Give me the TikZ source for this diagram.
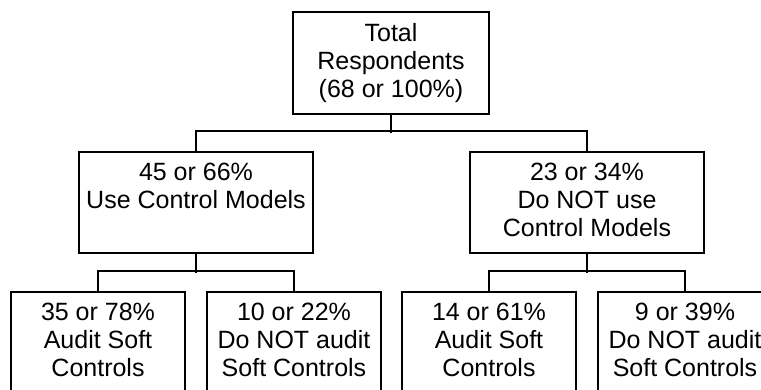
\documentclass[tikz,border=0pt]{standalone}
\usepackage{fontspec}
\setmainfont{Liberation Sans}
\begin{document}
\begin{tikzpicture}[x=1pt,y=-1pt,
  frame/.style={draw, line width=1.6pt, anchor=north, inner sep=0pt},
  txt/.style={anchor=north, align=center, inner sep=0pt, font=\fontsize{25}{28}\selectfont},
  conn/.style={line width=1.6pt}]
\useasboundingbox (0,0) rectangle (761,389);
\clip (0,0) rectangle (761,389);
% top
\node[frame, minimum width=196pt, minimum height=102pt] (T) at (391,11) {};
\node[txt] (Tt) at ([yshift=-12pt]T.north) {Total\\Respondents\\(68 or 100\%)};
% middle
\node[frame, minimum width=234pt, minimum height=101pt] (L) at (196,151) {};
\node[txt] (Lt) at ([yshift=-12pt]L.north) {45 or 66\%\\Use Control Models};
\node[frame, minimum width=234pt, minimum height=101pt] (R) at (587,151) {};
\node[txt] (Rt) at ([yshift=-12pt]R.north) {23 or 34\%\\Do NOT use\\Control Models};
% bottom
\node[frame, minimum width=174pt, minimum height=120pt] (B1) at (98,291) {};
\node[txt] (B1t) at ([yshift=-12pt]B1.north) {35 or 78\%\\Audit Soft\\Controls};
\node[frame, minimum width=174pt, minimum height=120pt] (B2) at (294,291) {};
\node[txt] (B2t) at ([yshift=-12pt]B2.north) {10 or 22\%\\Do NOT audit\\Soft Controls};
\node[frame, minimum width=174pt, minimum height=120pt] (B3) at (489,291) {};
\node[txt] (B3t) at ([yshift=-12pt]B3.north) {14 or 61\%\\Audit Soft\\Controls};
\node[frame, minimum width=174pt, minimum height=120pt] (B4) at (685,291) {};
\node[txt] (B4t) at ([yshift=-12pt]B4.north) {9 or 39\%\\Do NOT audit\\Soft Controls};
% connectors
\draw[conn] (T.south) -- ++(0,18);
\draw[conn] (L.north) -- ++(0,-20) -| (R.north);
\draw[conn] (L.south) -- ++(0,19);
\draw[conn] (B1.north) -- ++(0,-20) -| (B2.north);
\draw[conn] (R.south) -- ++(0,19);
\draw[conn] (B3.north) -- ++(0,-20) -| (B4.north);
\end{tikzpicture}
\end{document}
